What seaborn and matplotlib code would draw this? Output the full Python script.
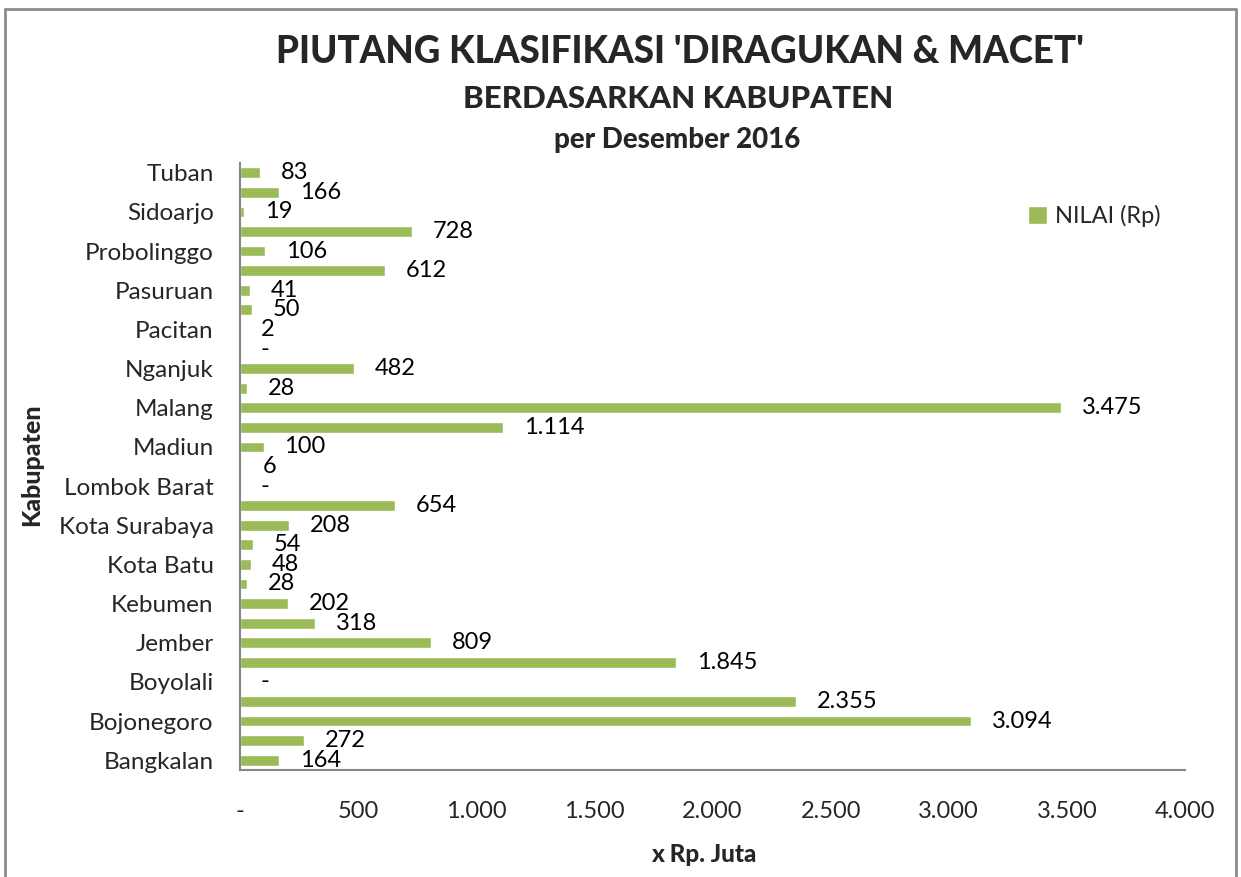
import numpy as np
import pandas as pd
import matplotlib.pyplot as plt
import seaborn as sns
from matplotlib.lines import Line2D

# bottom-to-top order as drawn in the reference; "" = row without a visible label
kabupaten = ["Bangkalan", "", "Bojonegoro", "", "Boyolali", "", "Jember", "",
             "Kebumen", "", "Kota Batu", "", "Kota Surabaya", "", "Lombok Barat", "",
             "Madiun", "", "Malang", "", "Nganjuk", "", "Pacitan", "", "Pasuruan", "",
             "Probolinggo", "", "Sidoarjo", "", "Tuban"]
nilai = [164, 272, 3094, 2355, 0, 1845, 809, 318, 202, 28, 48, 54, 208, 654, 0, 6,
         100, 1114, 3475, 28, 482, 0, 2, 50, 41, 612, 106, 728, 19, 166, 83]
x_ticks = [0, 500, 1000, 1500, 2000, 2500, 3000, 3500, 4000]

title = "PIUTANG KLASIFIKASI 'DIRAGUKAN & MACET'"
subtitle = "BERDASARKAN KABUPATEN"
period = "per Desember 2016"


def fmt(v):
    return "-" if v == 0 else f"{v:,}".replace(",", ".")


sns.set_style("white")
plt.rcParams["font.family"] = ["Lato", "DejaVu Sans"]

df = pd.DataFrame({"key": [f"r{i:02d}" for i in range(len(nilai))],
                   "label": kabupaten, "nilai": nilai})
order = df["key"][::-1].tolist()  # seaborn draws first category at top

fig = plt.figure(figsize=(12.41, 8.77), dpi=100)
ax = fig.add_axes([240 / 1241, 1 - 770 / 877, 945 / 1241, 607 / 877])

sns.barplot(data=df, x="nilai", y="key", order=order, orient="h",
            color="#9BBB59", width=0.55, saturation=1, ax=ax, label="NILAI (Rp)")

labels_top = df.set_index("key").loc[order]
ax.bar_label(ax.containers[0], labels=[fmt(v) for v in labels_top["nilai"]],
             padding=15, fontsize=17, color="black")

ax.set_xlim(0, 4000)
ax.set_xticks(x_ticks)
ax.set_xticklabels([fmt(v) for v in x_ticks], fontsize=17)
ax.set_yticks(range(len(order)))
ax.set_yticklabels(labels_top["label"].tolist(), fontsize=17.5)
ax.tick_params(axis="x", length=0, pad=22)
ax.tick_params(axis="y", length=0, pad=19)
ax.set_xlabel("")
ax.set_ylabel("")

for side in ["top", "right"]:
    ax.spines[side].set_visible(False)
for side in ["left", "bottom"]:
    ax.spines[side].set_color("#868686")
    ax.spines[side].set_linewidth(1.5)

ax.legend(loc="center left", bbox_to_anchor=(1016 / 1241, 1 - 216 / 877),
          bbox_transform=fig.transFigure, frameon=False, fontsize=17,
          handlelength=0.8, handleheight=0.8, handletextpad=0.35, borderpad=0)

fig.text(680 / 1241, 1 - 52 / 877, title, ha="center", va="center",
         fontsize=26.5, fontweight="black")
fig.text(678 / 1241, 1 - 99 / 877, subtitle, ha="center", va="center",
         fontsize=22.5, fontweight="black")
fig.text(677 / 1241, 1 - 140 / 877, period, ha="center", va="center",
         fontsize=20, fontweight="black")
fig.text(704 / 1241, 1 - 855 / 877, "x Rp. Juta", ha="center", va="center",
         fontsize=17.5, fontweight="black")
fig.text(32 / 1241, 1 - 465 / 877, "Kabupaten", ha="center", va="center",
         rotation=90, fontsize=18, fontweight="black")

# outer chart frame (bottom edge falls outside the picture)
bx0, bx1, by1 = 5 / 1241, 1236 / 1241, 1 - 9 / 877
for xs, ys in [([bx0, bx0], [-0.01, by1]), ([bx1, bx1], [-0.01, by1]), ([bx0, bx1], [by1, by1])]:
    fig.add_artist(Line2D(xs, ys, color="#8c8c8c", linewidth=2))

fig.savefig("out.png", dpi=100)
